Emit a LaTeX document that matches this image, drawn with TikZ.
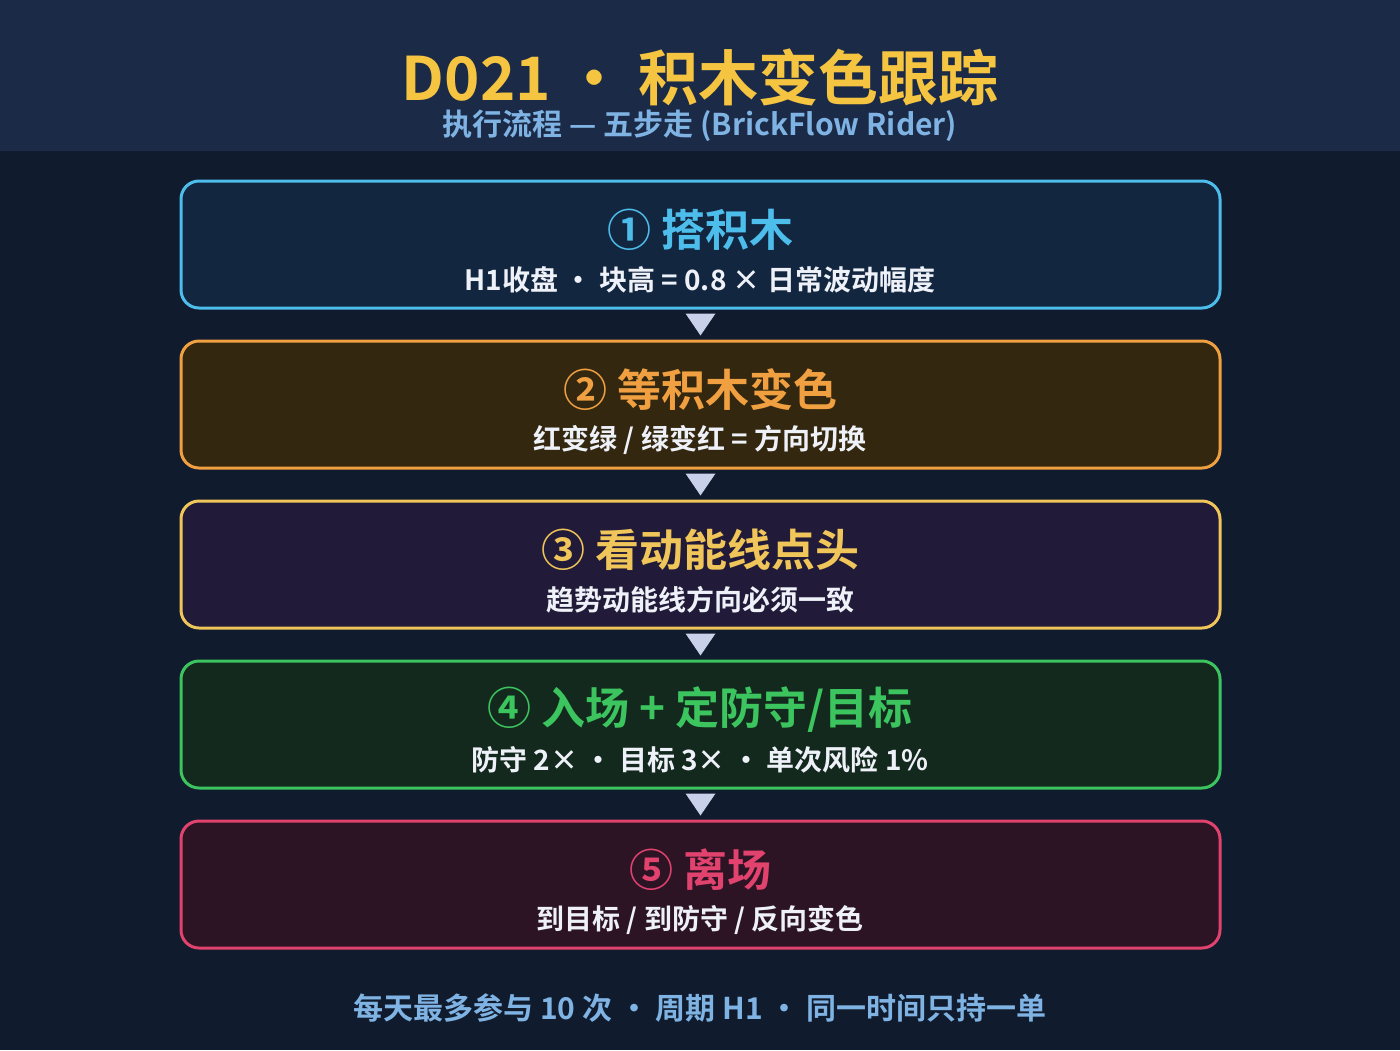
\documentclass[tikz,border=0pt]{standalone}
\usepackage{fontspec}
\setmainfont{Noto Sans CJK SC}[BoldFont={Noto Sans CJK SC Bold}]
\definecolor{bgbody}{HTML}{111B2E}
\definecolor{bghead}{HTML}{1B2A47}
\definecolor{titlegold}{HTML}{F5C542}
\definecolor{subblue}{HTML}{7FB3E3}
\definecolor{arrowc}{HTML}{C8D0EA}
\definecolor{txtw}{HTML}{EEF1F8}
\definecolor{cA}{HTML}{4DBDEB}\definecolor{fA}{HTML}{12263F}
\definecolor{cB}{HTML}{F0A040}\definecolor{fB}{HTML}{33270F}
\definecolor{cC}{HTML}{F0C55A}\definecolor{fC}{HTML}{211A38}
\definecolor{cD}{HTML}{3CC45E}\definecolor{fD}{HTML}{13291E}
\definecolor{cE}{HTML}{E2436E}\definecolor{fE}{HTML}{2C1424}
\tikzset{
  stepbox/.style={draw=#1, line width=3pt, rounded corners=18pt, minimum width=1039pt, minimum height=127pt, inner sep=0pt},
  steptitle/.style={text=#1, font=\bfseries\fontsize{44}{44}\selectfont, anchor=center, inner sep=0pt},
  stepsub/.style={text=txtw, font=\bfseries\fontsize{28}{28}\selectfont, anchor=center, inner sep=0pt},
  downtri/.style={fill=arrowc, draw=none}
}
\begin{document}
\begin{tikzpicture}[x=1pt,y=-1pt]
\useasboundingbox (0,0) rectangle (1400,1050);
\fill[bgbody] (0,0) rectangle (1400,1050);
\fill[bghead] (0,0) rectangle (1400,151);
\node[text=titlegold, font=\bfseries\fontsize{60}{60}\selectfont, inner sep=0pt] (title) at (700,77) {D021 · 积木变色跟踪};
\node[text=subblue, font=\bfseries\fontsize{30}{30}\selectfont, inner sep=0pt] (subtitle) at (700,126) {执行流程 — 五步走 (BrickFlow Rider)};

\node[stepbox=cA, fill=fA] (s1) at (700.5,244.5) {};
\node[stepbox=cB, fill=fB] (s2) at (700.5,404.5) {};
\node[stepbox=cC, fill=fC] (s3) at (700.5,564.5) {};
\node[stepbox=cD, fill=fD] (s4) at (700.5,724.5) {};
\node[stepbox=cE, fill=fE] (s5) at (700.5,884.5) {};

\node[steptitle=cA] (t1) at (700,230) {① 搭积木};
\node[stepsub] (u1) at (700,280) {H1收盘 · 块高 = 0.8 × 日常波动幅度};
\node[steptitle=cB] (t2) at (700,390) {② 等积木变色};
\node[stepsub] (u2) at (700,440) {红变绿 / 绿变红 = 方向切换};
\node[steptitle=cC] (t3) at (700,550) {③ 看动能线点头};
\node[stepsub] (u3) at (700,600) {趋势动能线方向必须一致};
\node[steptitle=cD] (t4) at (700,710) {④ 入场 + 定防守/目标};
\node[stepsub] (u4) at (700,760) {防守 2× · 目标 3× · 单次风险 1\%};
\node[steptitle=cE] (t5) at (700,870) {⑤ 离场};
\node[stepsub] (u5) at (700,920) {到目标 / 到防守 / 反向变色};

\foreach \a/\b in {s1/s2,s2/s3,s3/s4,s4/s5}{
  \path (\a.south) ++(0,4) coordinate (p1);
  \fill[arrowc] ([xshift=-15pt]p1) -- ([xshift=15pt]p1) -- ([yshift=4pt]\b.north) -- cycle;
}

\node[text=subblue, font=\bfseries\fontsize{30}{30}\selectfont, inner sep=0pt] (foot) at (700,1008) {每天最多参与 10 次 · 周期 H1 · 同一时间只持一单};
\end{tikzpicture}
\end{document}
